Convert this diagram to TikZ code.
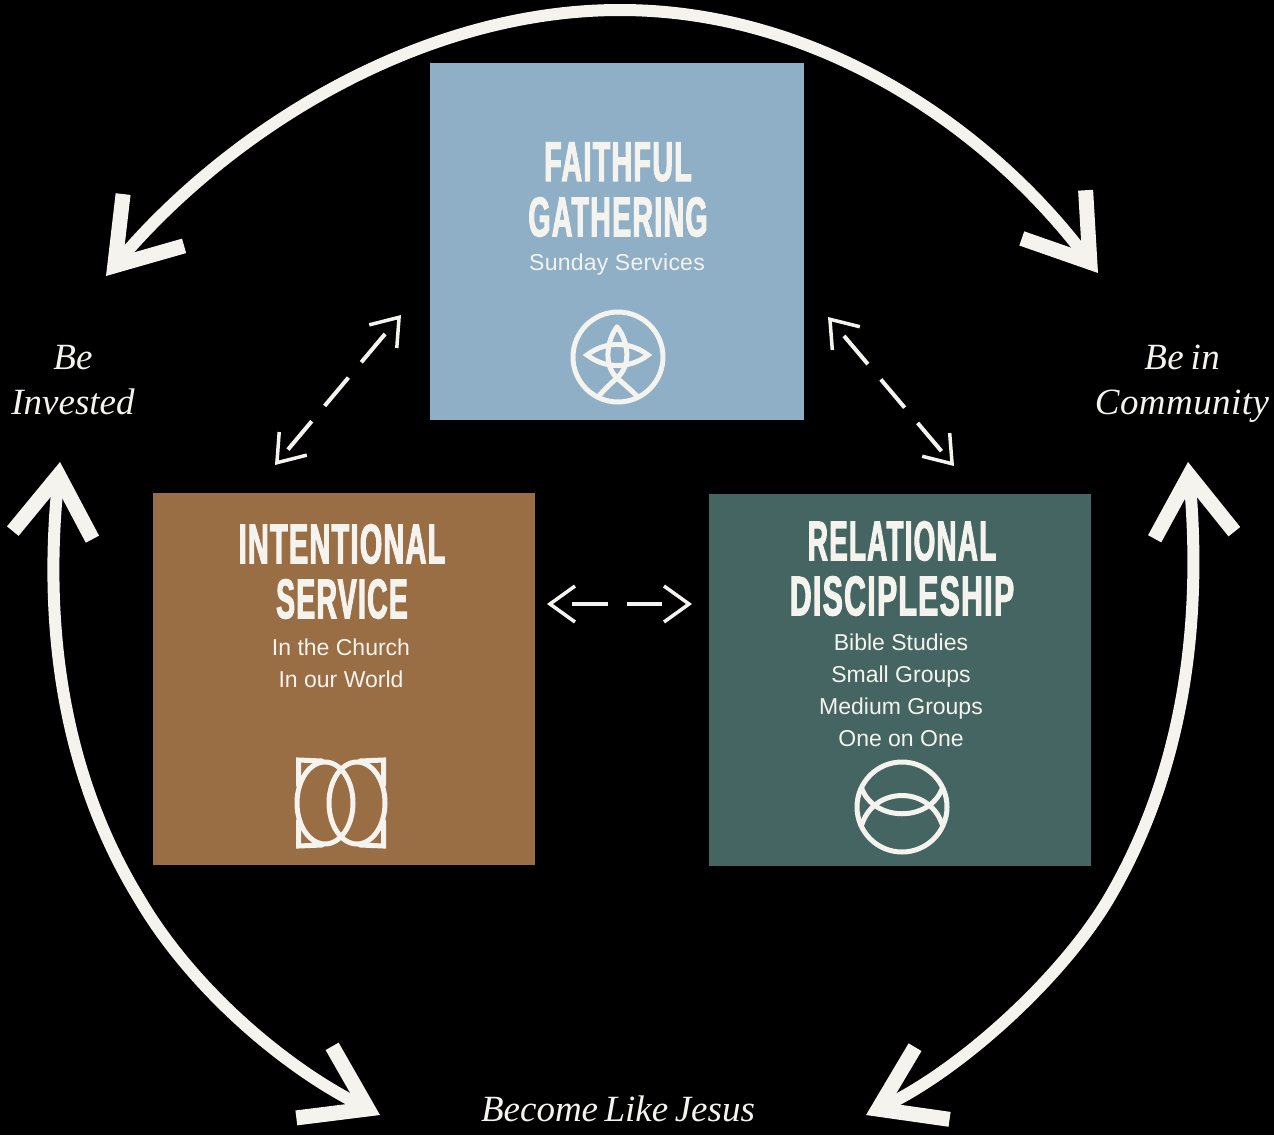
\documentclass[tikz,border=0pt]{standalone}
\usepackage{fontspec}
\usetikzlibrary{arrows.meta}
\setmainfont{Liberation Sans}
\newfontfamily\condfont[FakeStretch=0.52,FakeBold=2,LetterSpace=2.5]{Liberation Sans Bold}
\newfontfamily\itfont[WordSpace=0.7]{Liberation Serif Italic}
\definecolor{ink}{HTML}{F5F3EE}
\definecolor{bluebox}{HTML}{8EAFC6}
\definecolor{brownbox}{HTML}{9A6E44}
\definecolor{greenbox}{HTML}{446561}
\tikzset{
  x=1pt,y=-1pt,
  heading/.style={text=ink,font=\condfont\fontsize{56}{56}\selectfont,inner sep=0pt},
  subtext/.style={text=ink,font=\fontsize{23}{32}\selectfont,align=center,inner sep=0pt},
  outcome/.style={text=ink,font=\itfont\fontsize{37}{45}\selectfont,align=center,inner sep=0pt},
  bigarrow/.style={draw=ink,line width=12pt,
    {Straight Barb[sharp,length=60pt,width=80pt,line width=15pt]}-{Straight Barb[sharp,length=60pt,width=80pt,line width=15pt]}},
  dasharrow/.style={draw=ink,line width=4pt,
    {Straight Barb[sharp,length=25pt,width=36pt,line width=3.5pt]}-{Straight Barb[sharp,length=25pt,width=36pt,line width=3.5pt]}},
  icon/.style={draw=ink,line width=5pt,line cap=round,line join=miter},
}
\begin{document}
\begin{tikzpicture}
\useasboundingbox (0,0) rectangle (1274,1135);
\fill[black] (0,0) rectangle (1274,1135);
% panels
\node[fill=bluebox,minimum width=374pt,minimum height=357pt,inner sep=0pt,outer sep=0pt] (faith) at (617,241.5) {};
\node[fill=brownbox,minimum width=382pt,minimum height=372pt,inner sep=0pt,outer sep=0pt] (serve) at (344,679) {};
\node[fill=greenbox,minimum width=382pt,minimum height=372pt,inner sep=0pt,outer sep=0pt] (disc) at (900,680) {};
% texts
\node[heading,xscale=0.98] (f1) at (618,162) {FAITHFUL};
\node[heading,xscale=0.975] (f2) at (618,217) {GATHERING};
\node[subtext,font=\addfontfeature{LetterSpace=1}\fontsize{23}{32}\selectfont] (f3) at (617,265) {Sunday Services};
\node[heading,xscale=0.985] (s1) at (342,544) {INTENTIONAL};
\node[heading,xscale=0.97] (s2) at (342,599) {SERVICE};
\node[subtext] (s3) at (341,663) {In the Church\\In our World};
\node[heading,xscale=0.95] (d1) at (902,541) {RELATIONAL};
\node[heading,xscale=1.03] (d2) at (902,596) {DISCIPLESHIP};
\node[subtext] (d3) at (901,690) {Bible Studies\\Small Groups\\Medium Groups\\One on One};
\node[outcome] (inv) at (73,380) {Be\\Invested};
\node[outcome,font=\itfont\addfontfeature{LetterSpace=1.2}\fontsize{37}{45}\selectfont] (com) at (1182,384) {Be in\\Community};
\node[outcome] (jes) at (618,1109) {Become Like Jesus};
% end points
\coordinate (tl) at (106,276);
\coordinate (tr) at (1098,273);
\coordinate (ml) at (60,462);
\coordinate (mr) at (1188,462);
\coordinate (bl) at (380,1115);
\coordinate (br) at (866,1115);
\coordinate (da) at (401,315);
\coordinate (db) at (275,465);
\coordinate (dc) at (828,317);
\coordinate (dd) at (954,466);
\coordinate (de) at (547,604);
\coordinate (df) at (692,604);
% big arcs
\draw[bigarrow] (tl) .. controls (230,130) and (420,10) .. (620,10) .. controls (820,10) and (990,130) .. (tr);
\draw[bigarrow] (ml) .. controls (44,620) and (60,770) .. (140,900) .. controls (190,985) and (280,1065) .. (bl);
\draw[bigarrow] (mr) .. controls (1202,620) and (1185,770) .. (1108,900) .. controls (1060,980) and (960,1070) .. (br);
% dashed arrows
\draw[dasharrow,dash pattern=on 37pt off 20pt,dash phase=37pt] (da) -- (db);
\draw[dasharrow,dash pattern=on 37pt off 20pt,dash phase=37pt] (dc) -- (dd);
\draw[dasharrow,dash pattern=on 0pt off 20pt on 36pt off 19pt on 35pt off 100pt] (de) -- (df);
% icon: faithful gathering
\draw[icon] (618,357) circle[radius=45];
\draw[icon] (617,327) .. controls (607,340) and (603,365) .. (617,378) .. controls (624,384) and (631,390) .. (638,397);
\draw[icon] (617,327) .. controls (628,340) and (632,365) .. (617,378) .. controls (610,384) and (604,390) .. (598,397);
\draw[icon] (587,355) .. controls (605,341) and (630,341) .. (648,355) .. controls (630,369) and (605,369) .. (587,355) -- cycle;
% icon: intentional service
\draw[icon] (325,803) ellipse[x radius=28,y radius=41];
\draw[icon] (357,803) ellipse[x radius=28,y radius=41];
\draw[icon] (298.5,785) -- (298.5,760) -- (322,761);
\draw[icon] (383.5,785) -- (383.5,760) -- (360,761);
\draw[icon] (298.5,821) -- (298.5,846) -- (322,845);
\draw[icon] (383.5,821) -- (383.5,846) -- (360,845);
% icon: relational discipleship
\draw[icon] (902,807) circle[radius=45];
\draw[icon] (862,789) .. controls (875,822) and (929,822) .. (942,789);
\draw[icon] (862,824) .. controls (875,786) and (929,786) .. (942,824);
\end{tikzpicture}
\end{document}
